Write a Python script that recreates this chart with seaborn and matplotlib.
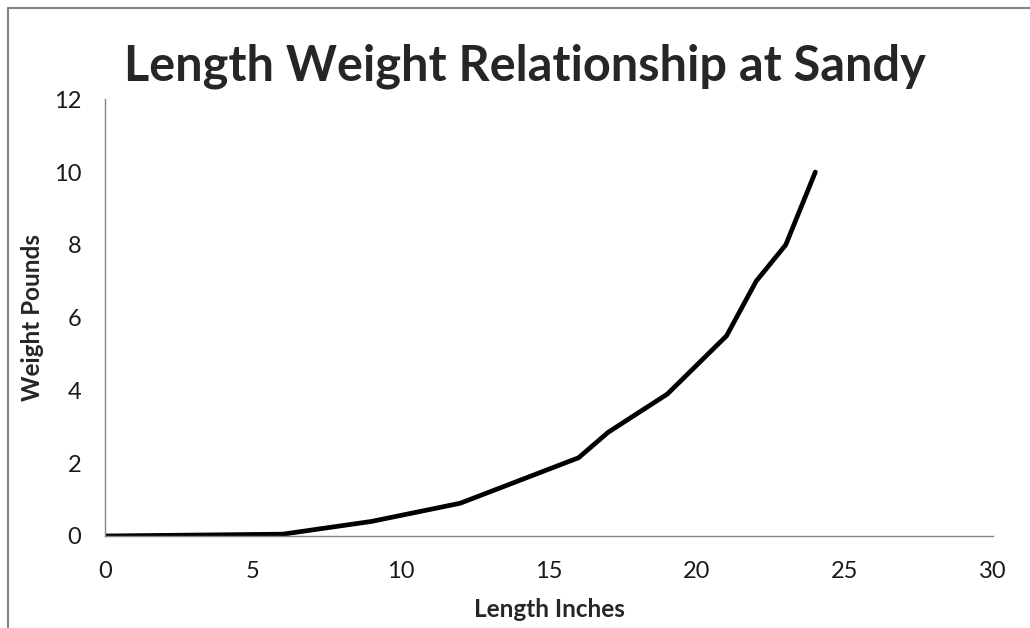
import matplotlib
matplotlib.use("Agg")
import matplotlib.pyplot as plt
import seaborn as sns
import pandas as pd
from matplotlib.lines import Line2D

# values
length_in = [0, 6, 9, 12, 16, 17, 19, 21, 22, 23, 24]
weight_lb = [0.0, 0.05, 0.4, 0.9, 2.15, 2.85, 3.9, 5.5, 7.0, 8.0, 10.0]
x_ticks = [0, 5, 10, 15, 20, 25, 30]
y_ticks = [0, 2, 4, 6, 8, 10, 12]

df = pd.DataFrame({"Length Inches": length_in, "Weight Pounds": weight_lb})

sns.set_style("white")
plt.rcParams["font.family"] = ["Lato", "DejaVu Sans"]

fig = plt.figure(figsize=(10.3, 6.28), dpi=100)
ax = fig.add_axes([0.102, 0.1465, 0.862, 0.6955])

sns.lineplot(data=df, x="Length Inches", y="Weight Pounds", color="black",
             linewidth=3.4, ax=ax, solid_capstyle="round")

ax.set_xlim(0, 30)
ax.set_ylim(0, 12)
ax.set_xticks(x_ticks)
ax.set_yticks(y_ticks)
ax.tick_params(axis="both", direction="out", length=7, width=1, color="#868686",
               labelsize=17, labelcolor="#1a1a1a")
ax.tick_params(axis="x", pad=11)
ax.tick_params(axis="y", pad=10)

for side in ["top", "right"]:
    ax.spines[side].set_visible(False)
for side in ["left", "bottom"]:
    ax.spines[side].set_color("#868686")
    ax.spines[side].set_linewidth(1)

ax.set_xlabel("Length Inches", fontsize=17.5, fontweight="bold", va="center")
ax.set_ylabel("Weight Pounds", fontsize=17.5, fontweight="bold", va="center")
ax.xaxis.set_label_coords(0.5, -0.169)
ax.yaxis.set_label_coords(-0.082, 0.5)

fig.text(0.51, 0.895, "Length Weight Relationship at Sandy", ha="center", va="center",
         fontsize=35, fontweight="bold")

# chart-area frame (only left and top edges show in the reference)
fig.add_artist(Line2D([0.008, 0.008], [0, 0.987], color="#868686", lw=1.5,
                      transform=fig.transFigure))
fig.add_artist(Line2D([0.008, 1], [0.987, 0.987], color="#868686", lw=1.5,
                      transform=fig.transFigure))

fig.savefig("out.png", dpi=100)
